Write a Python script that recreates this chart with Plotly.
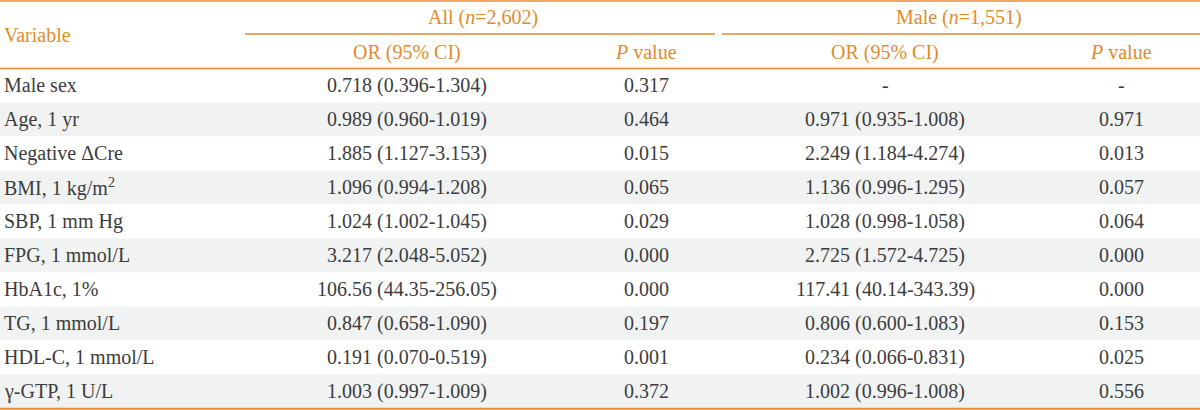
import plotly.graph_objects as go

variables = ["Male sex", "Age, 1 yr", "Negative \u0394Cre", "BMI, 1 kg/m<sup>2</sup>", "SBP, 1 mm Hg",
             "FPG, 1 mmol/L", "HbA1c, 1%", "TG, 1 mmol/L", "HDL-C, 1 mmol/L", "\u03b3-GTP, 1 U/L"]
all_or = ["0.718 (0.396-1.304)", "0.989 (0.960-1.019)", "1.885 (1.127-3.153)", "1.096 (0.994-1.208)",
          "1.024 (1.002-1.045)", "3.217 (2.048-5.052)", "106.56 (44.35-256.05)", "0.847 (0.658-1.090)",
          "0.191 (0.070-0.519)", "1.003 (0.997-1.009)"]
all_p = ["0.317", "0.464", "0.015", "0.065", "0.029", "0.000", "0.000", "0.197", "0.001", "0.372"]
male_or = ["-", "0.971 (0.935-1.008)", "2.249 (1.184-4.274)", "1.136 (0.996-1.295)", "1.028 (0.998-1.058)",
           "2.725 (1.572-4.725)", "117.41 (40.14-343.39)", "0.806 (0.600-1.083)", "0.234 (0.066-0.831)",
           "1.002 (0.996-1.008)"]
male_p = ["-", "0.971", "0.013", "0.057", "0.064", "0.000", "0.000", "0.153", "0.025", "0.556"]

group_labels = ["All (<i>n</i>=2,602)", "Male (<i>n</i>=1,551)"]
sub_labels = ["OR (95% CI)", "<i>P</i> value", "OR (95% CI)", "<i>P</i> value"]

ORANGE = "#E38B2C"
TEXT = "#3c3c3c"
STRIPE = "#F1F3F3"
FONT = "Liberation Serif"
FS = 20

W, H = 1200, 410
head_bottom = 68.5
row_h = 33.95
n = len(variables)
row_y = [head_bottom + row_h * (i + 0.5) for i in range(n)]

col_x = [407, 646, 885, 1121]
group_x = [483, 959]
group_lines = [(245, 715), (722, 1200)]

fig = go.Figure()
fig.add_trace(go.Scatter(x=[0, W], y=[0, H], mode="markers", marker=dict(opacity=0), hoverinfo="skip"))

shapes = []
for i in range(n):
    if i % 2 == 1:
        shapes.append(dict(type="rect", xref="x", yref="y", x0=0, x1=W,
                           y0=head_bottom + row_h * i, y1=head_bottom + row_h * (i + 1),
                           fillcolor=STRIPE, line_width=0, layer="below"))
line = dict(color=ORANGE, width=1.6)
shapes.append(dict(type="line", xref="x", yref="y", x0=0, x1=W, y0=1, y1=1, line=line))
shapes.append(dict(type="line", xref="x", yref="y", x0=0, x1=W, y0=head_bottom, y1=head_bottom, line=line))
shapes.append(dict(type="line", xref="x", yref="y", x0=0, x1=W, y0=408.7, y1=408.7, line=dict(color=ORANGE, width=2)))
for x0, x1 in group_lines:
    shapes.append(dict(type="line", xref="x", yref="y", x0=x0, x1=x1, y0=34, y1=34, line=line))

annotations = []
def txt(x, y, s, color, anchor="center"):
    annotations.append(dict(x=x, y=y, xref="x", yref="y", text=s, showarrow=False,
                            xanchor=anchor, yanchor="middle", borderpad=0,
                            font=dict(family=FONT, size=FS, color=color)))

for y, v in zip(row_y, variables):
    txt(3, y, v, TEXT, "left")
for cx, col in zip(col_x, [all_or, all_p, male_or, male_p]):
    for y, v in zip(row_y, col):
        txt(cx, y, v, TEXT)

txt(3, 35, "Variable", ORANGE, "left")
for gx, g in zip(group_x, group_labels):
    txt(gx, 17, g, ORANGE)
for cx, s in zip(col_x, sub_labels):
    txt(cx, 52, s, ORANGE)

fig.update_layout(
    width=W, height=H, margin=dict(l=0, r=0, t=0, b=0),
    paper_bgcolor="white", plot_bgcolor="white", showlegend=False,
    xaxis=dict(range=[0, W], visible=False, fixedrange=True),
    yaxis=dict(range=[H, 0], visible=False, fixedrange=True),
    shapes=shapes, annotations=annotations,
)
fig.write_html("out.html", config={"displayModeBar": False},
               post_script="document.body.style.margin='0';document.body.style.overflow='hidden';")
